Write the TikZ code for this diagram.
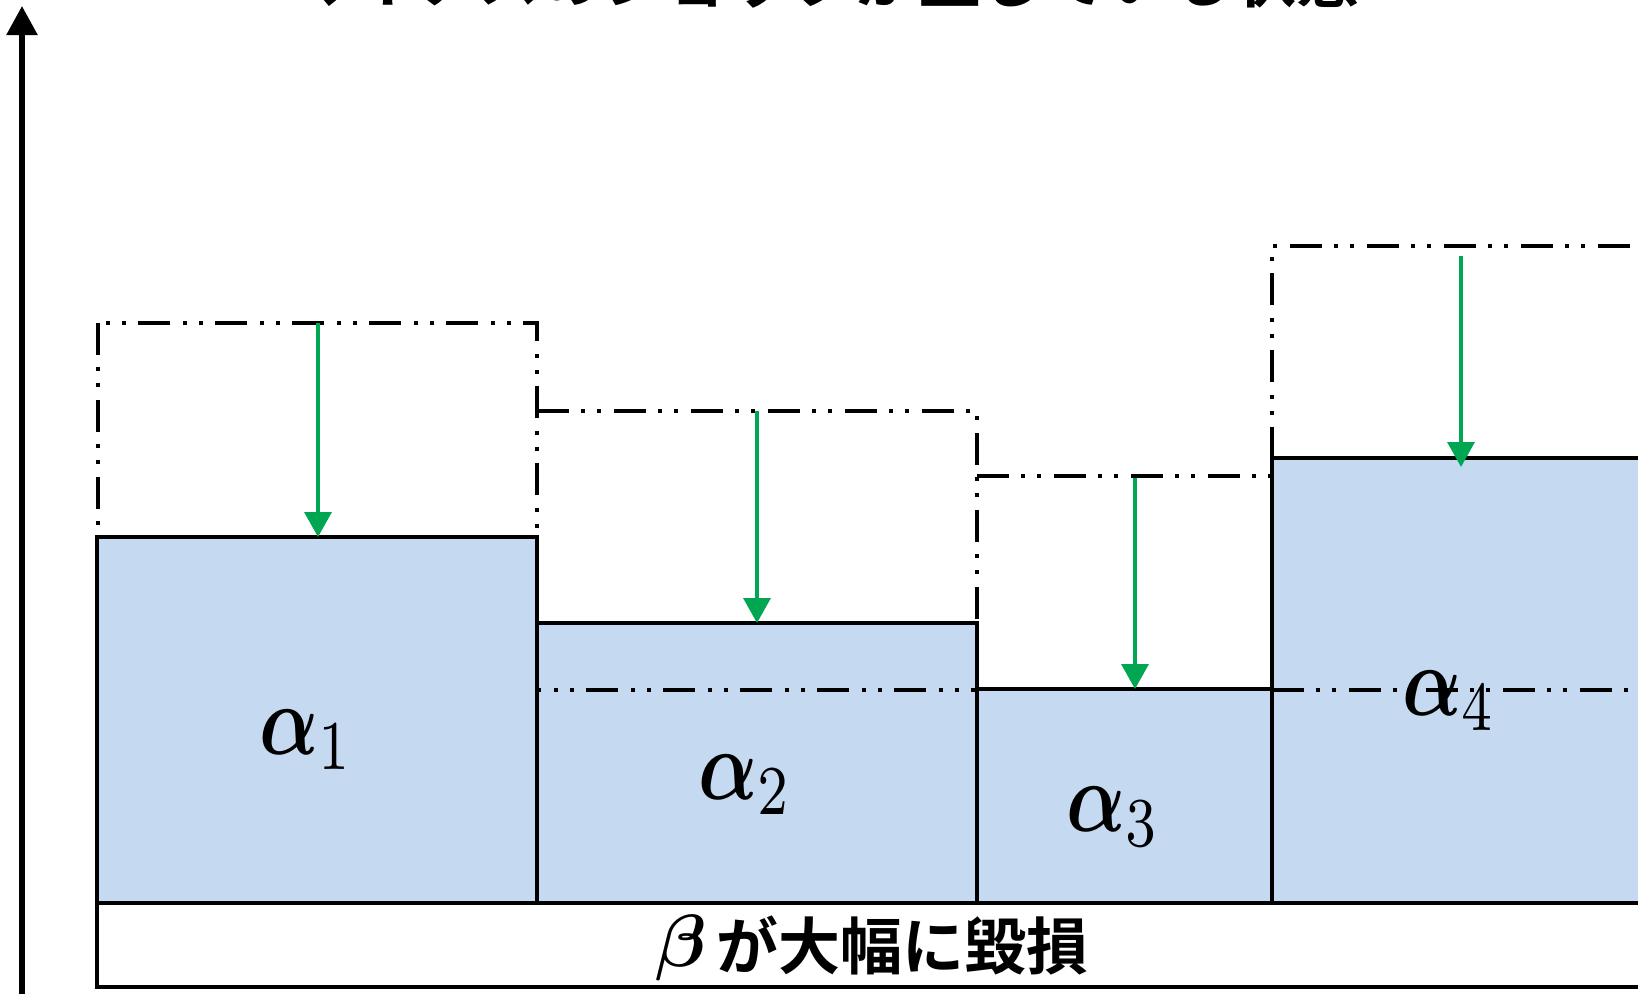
\documentclass[tikz,border=0pt]{standalone}
\usepackage{amsmath}
\usepackage{fontspec}
\usepackage{graphicx}
\newfontfamily\cjk{Noto Sans CJK JP Bold}
\usetikzlibrary{arrows.meta}
\definecolor{boxblue}{RGB}{197,217,241}
\definecolor{arrgreen}{RGB}{0,166,81}
\begin{document}
\begin{tikzpicture}[x=1pt,y=-1pt,
  box/.style={draw=black,line width=3.5pt},
  ddot/.style={draw=black,line width=3.5pt,dash pattern=on 32pt off 12pt on 4pt off 12pt on 4pt off 13pt},
  drop/.style={draw=arrgreen,line width=3.5pt,-{Triangle[width=27pt,length=25pt]}},
  axis/.style={draw=black,line width=5.5pt,-{Triangle[width=30pt,length=29pt]}},
  lbl/.style={anchor=base west,inner sep=0pt},
  jp/.style={anchor=base west,inner sep=0pt,font=\fontsize{62}{70}\selectfont\cjk}]
\path[use as bounding box,clip] (0,0) rectangle (1638,993);
% clipped title
\node[jp,font=\fontsize{63}{70}\selectfont\cjk] (title) at (290,2) {マイナスのショックが生じている状態};
% axis
\coordinate (axb) at (22,1000);
\coordinate (axt) at (22,6);
\draw[axis] (axb) -- (axt);
% original position of block 1 (behind)
\draw[ddot] (98,323) rectangle (537,690);
% base block
\draw[box,fill=white] (97,903) rectangle (1700,987);
% blocks
\draw[box,fill=boxblue] (97,537) rectangle (537,903);
\draw[box,fill=boxblue] (537,623) rectangle (977,903);
\draw[box,fill=boxblue] (977,689) rectangle (1272,903);
\draw[box,fill=boxblue] (1272,458) rectangle (1700,903);
% original positions of blocks 2-4
\draw[ddot] (537,411) -- (977,411) -- (977,690) -- (537,690);
\draw[ddot] (977,476) -- (1272,476);
\draw[ddot] (1272,690) -- (1272,246) -- (1700,246);
\draw[ddot] (1272,690) -- (1700,690);
% drops
\coordinate (s1) at (318,323); \coordinate (e1) at (318,537);
\coordinate (s2) at (757,411); \coordinate (e2) at (757,623);
\coordinate (s3) at (1135,478); \coordinate (e3) at (1135,689);
\coordinate (s4) at (1461,256); \coordinate (e4) at (1461,467);
\draw[drop] (s1) -- (e1);
\draw[drop] (s2) -- (e2);
\draw[drop] (s3) -- (e3);
\draw[drop] (s4) -- (e4);
% labels
\node[lbl] (l1) at (259,754) {\scalebox{7.8}[10]{$\boldsymbol{\alpha}_1$}};
\node[lbl] (l2) at (698,799) {\scalebox{7.8}[10]{$\boldsymbol{\alpha}_2$}};
\node[lbl] (l3) at (1066,831) {\scalebox{7.8}[10]{$\boldsymbol{\alpha}_3$}};
\node[lbl] (l4) at (1402,715) {\scalebox{7.8}[10]{$\boldsymbol{\alpha}_4$}};
\node[lbl] (beta) at (655,966) {\scalebox{7.4}{$\boldsymbol{\beta}$}};
\node[jp] (btxt) at (716,969) {が大幅に毀損};
\end{tikzpicture}
\end{document}
